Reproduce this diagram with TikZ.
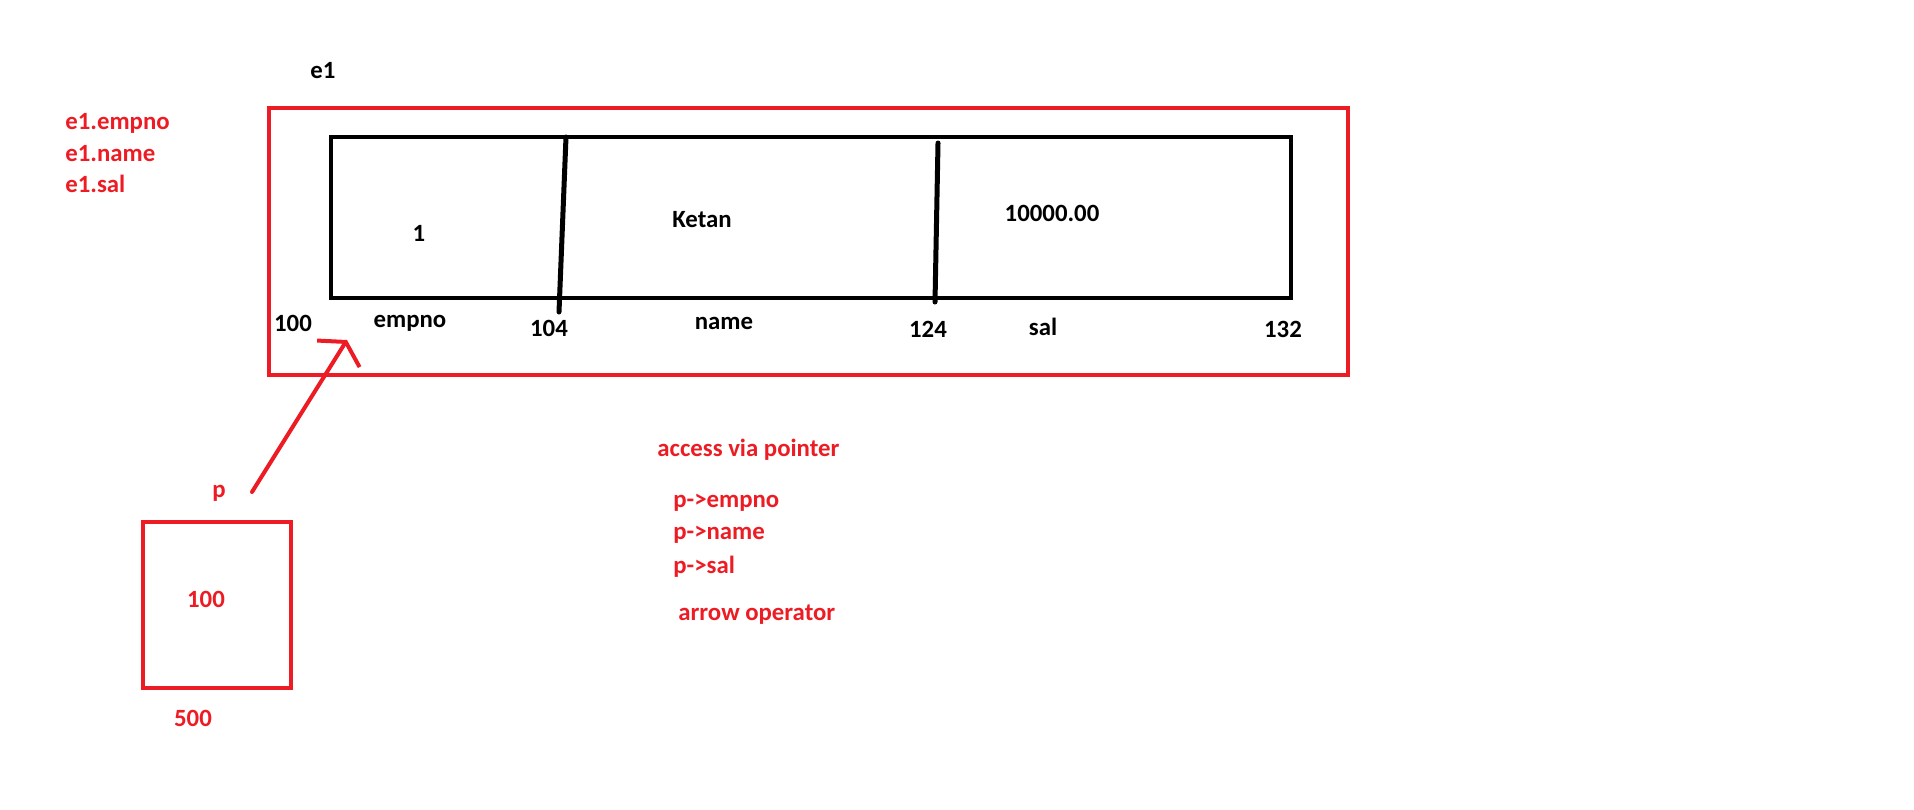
\documentclass[tikz,border=0pt]{standalone}
\usepackage{fontspec}
\setmainfont{Carlito}
\usetikzlibrary{arrows.meta}
\definecolor{PaintRed}{HTML}{ED1C24}
\definecolor{PaintBlack}{HTML}{000000}

\begin{document}
\begin{tikzpicture}[x=0.5pt, y=-0.5pt,
    font=\fontsize{12.4}{14}\selectfont\bfseries,
    redlabel/.style={PaintRed, inner sep=0pt},
    blacklabel/.style={PaintBlack, inner sep=0pt},
    penline/.style={line width=2pt, line cap=round}]
  \useasboundingbox (0,0) rectangle (1914,809);
  % struct variable e1
  \node[blacklabel] (e1) at (323,71) {e1};
  \draw[penline, PaintRed, line cap=butt] (269,108) rectangle (1348,375);
  \draw[penline, PaintBlack, line cap=butt, line width=2.2pt]
    (331,137) rectangle (1291,298);
  % field borders
  \draw[penline, PaintBlack, line width=2.5pt] (566,137) -- (559,312);
  \draw[penline, PaintBlack, line width=2.5pt] (938,143) -- (935,302);
  % field values
  \node[blacklabel] (empnoval) at (419,233) {1};
  \node[blacklabel] (nameval) at (702,220) {Ketan};
  \node[blacklabel] (salval) at (1052,213) {10000.00};
  % addresses and field names
  \node[blacklabel] (addra) at (293,323) {100};
  \node[blacklabel] (empno) at (410,323) {empno};
  \node[blacklabel] (addrb) at (549,328) {104};
  \node[blacklabel] (name) at (724,323) {name};
  \node[blacklabel] (addrc) at (928,329) {124};
  \node[blacklabel] (sal) at (1043,327) {sal};
  \node[blacklabel] (addrd) at (1283,329) {132};
  % access via dot
  \node[redlabel, anchor=west] (dotempno) at (65,123) {e1.empno};
  \node[redlabel, anchor=west] (dotname) at (65,154) {e1.name};
  \node[redlabel, anchor=west] (dotsal) at (65,184) {e1.sal};
  % pointer p
  \node[redlabel] (p) at (219,493) {p};
  \node[draw, PaintRed, line width=2pt, minimum width=74pt,
    minimum height=83pt] (pbox) at (217,605) {};
  \node[redlabel] (pval) at (206,599) {100};
  \node[redlabel] (paddr) at (193,718) {500};
  \coordinate (pstart) at (252,492);
  \coordinate (ptip) at (347,340);
  \draw[penline, PaintRed, -{Straight Barb[length=7pt, width=25pt]}]
    (pstart) -- (ptip);
  % access via pointer
  \node[redlabel, anchor=west] (via) at (657,450) {access via pointer};
  \node[redlabel, anchor=west] (arrempno) at (673,503) {p->empno};
  \node[redlabel, anchor=west] (arrname) at (673,535) {p->name};
  \node[redlabel, anchor=west] (arrsal) at (673,567) {p->sal};
  \node[redlabel, anchor=west] (arrop) at (678,615) {arrow operator};
\end{tikzpicture}
\end{document}
